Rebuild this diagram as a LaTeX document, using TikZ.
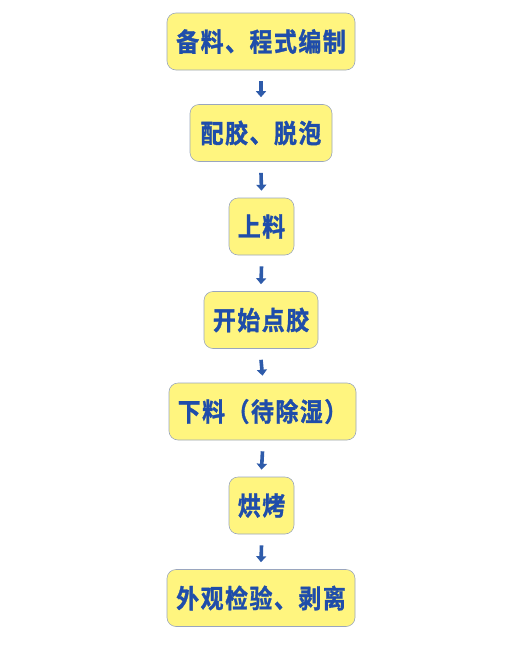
\documentclass[tikz,border=0pt]{standalone}
\usepackage{fontspec}
\newfontfamily\cjk[FakeStretch=0.88,FakeBold=1.2,LetterSpace=6]{Noto Sans CJK SC Bold}
\usetikzlibrary{arrows.meta}
\definecolor{boxfill}{HTML}{FFF57F}
\definecolor{boxline}{HTML}{9AA6BE}
\definecolor{txtblue}{HTML}{1F4DAA}
\definecolor{arrblue}{HTML}{2E5BAA}
\tikzset{
  stepbox/.style={draw=boxline, line width=0.6pt, fill=boxfill, rounded corners=9pt,
    minimum height=57pt, inner xsep=6pt, text=txtblue,
    font=\cjk\fontsize{26}{26}\selectfont},
  flow/.style={draw=arrblue, line width=3.6pt, -{Triangle[width=10pt,length=6pt]}}
}
\begin{document}
\begin{tikzpicture}[x=1pt,y=-1pt]
\useasboundingbox (0,0) rectangle (520,648);
\node[stepbox, minimum width=188pt] (s1) at (261,41.5) {备料、程式编制};
\node[stepbox, minimum width=142pt] (s2) at (261,133) {配胶、脱泡};
\node[stepbox, minimum width=65pt] (s3) at (261.5,226.5) {上料};
\node[stepbox, minimum width=114pt] (s4) at (261,320) {开始点胶};
\node[stepbox, minimum width=187pt] (s5) at (262.5,411.5) {下料（待除湿）};
\node[stepbox, minimum width=65pt] (s6) at (261.5,505.5) {烘烤};
\node[stepbox, minimum width=188pt] (s7) at (261,598) {外观检验、剥离};
\foreach \a/\b in {s1/s2,s2/s3,s3/s4,s4/s5,s5/s6,s6/s7}{
  \draw[flow] ([yshift=-11pt]\a.south) -- ([yshift=7pt]\b.north);
}
\end{tikzpicture}
\end{document}
